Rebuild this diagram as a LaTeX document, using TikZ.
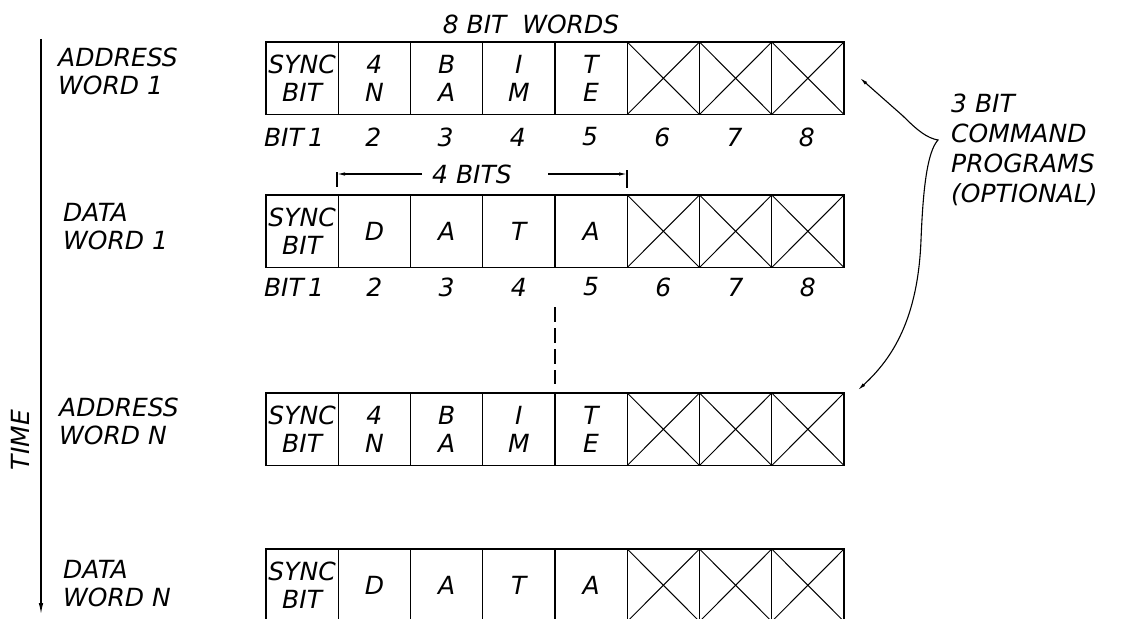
\documentclass[tikz,border=0pt]{standalone}
\usepackage{fontspec}
\setmainfont{DejaVu Sans}
\usetikzlibrary{arrows.meta}
\begin{document}
\begin{tikzpicture}[x=1pt,y=-1pt,
  txt/.style={font=\fontsize{25}{28}\selectfont\itshape, inner sep=0pt},
  cell/.style={draw, line width=1.2pt, minimum width=72.25pt, minimum height=72.5pt,
    inner sep=0pt, outer sep=0pt, align=center, font=\fontsize{25}{28}\selectfont\itshape},
  outline/.style={draw, line width=1.8pt},
  cross/.style={line width=1pt},
  arr/.style={line width=1.1pt, -{Latex[length=8pt,width=3.5pt]}},
  thinline/.style={line width=1.1pt}]
\useasboundingbox (0,0) rectangle (1126,618);
\fill[white] (0,0) rectangle (1126,618);
\clip (0,0) rectangle (1126,618);

% ---- row 1: address word 1
\foreach \i/\t in {1/{SYNC\\BIT},2/{4\\N},3/{B\\A},4/{I\\M},5/{T\\E},6/{},7/{},8/{}}
  \node[cell] (r1c\i) at ({266+72.25*(\i-0.5)},78.25) {\t};
% ---- row 2: data word 1
\foreach \i/\t in {1/{SYNC\\BIT},2/{D},3/{A},4/{T},5/{A},6/{},7/{},8/{}}
  \node[cell] (r2c\i) at ({266+72.25*(\i-0.5)},231.25) {\t};
% ---- row 3: address word N
\foreach \i/\t in {1/{SYNC\\BIT},2/{4\\N},3/{B\\A},4/{I\\M},5/{T\\E},6/{},7/{},8/{}}
  \node[cell] (r3c\i) at ({266+72.25*(\i-0.5)},429.25) {\t};
% ---- row 4: data word N
\foreach \i/\t in {1/{SYNC\\BIT},2/{D},3/{A},4/{T},5/{A},6/{},7/{},8/{}}
  \node[cell] (r4c\i) at ({266+72.25*(\i-0.5)},585.25) {\t};

\foreach \r in {1,2,3,4}{
  \draw[outline] (r\r c1.north west) rectangle (r\r c8.south east);
  \foreach \i in {6,7,8}{
    \draw[cross] (r\r c\i.north west) -- (r\r c\i.south east);
    \draw[cross] (r\r c\i.south west) -- (r\r c\i.north east);
  }
}

% ---- bit numbers
\node[txt] (b1a) at (294,137) {BIT\,1};
\node[txt] (b1b) at (294,287) {BIT\,1};
\foreach \i in {2,...,8}{
  \node[txt] (n1\i) at ({266+72.25*(\i-0.5)-1},137) {\i};
  \node[txt] (n2\i) at ({266+72.25*(\i-0.5)},287) {\i};
}

% ---- title
\node[txt] (title) at (531,24) {8 BIT\ \ WORDS};

% ---- row labels
\node[txt, anchor=west, align=left] (l1) at (58,71.5) {ADDRESS\\WORD 1};
\node[txt, anchor=west, align=left] (l2) at (63,226.5) {DATA\\WORD 1};
\node[txt, anchor=west, align=left] (l3) at (59,421.5) {ADDRESS\\WORD N};
\node[txt, anchor=west, align=left] (l4) at (63,583.5) {DATA\\WORD N};

% ---- time axis
\coordinate (ts) at (41,39);
\coordinate (te) at (41,614);
\draw[line width=1.1pt, -{Latex[length=11pt,width=4.5pt]}] (ts) -- (te);
\node[txt, rotate=90] (time) at (20,440) {TIME};

% ---- 4 bits dimension
\coordinate (dl) at (337,174);
\coordinate (dr) at (627,174);
\coordinate (dlt) at (337,172);
\coordinate (dlb) at (337,187);
\coordinate (drt) at (627,170);
\coordinate (drb) at (627,188);
\node[txt] (fb) at (472,174) {4 BITS};
\coordinate (fbl) at (422,174);
\coordinate (fbr) at (548,174);
\draw[thinline] (dlt) -- (dlb);
\draw[thinline] (drt) -- (drb);
\draw[arr] (fbl) -- (dl);
\draw[arr] (fbr) -- (dr);

% ---- dashed continuation
\coordinate (ds) at (555,307);
\coordinate (de) at (555,384);
\draw[line width=1.2pt, dash pattern=on 15pt off 6pt] (ds) -- (de);

% ---- command programs note
\node[anchor=west, align=left, inner sep=0pt, font=\fontsize{25}{30}\selectfont\itshape]
  (cmd) at (951,150) {3 BIT\\COMMAND\\PROGRAMS\\(OPTIONAL)};
\coordinate (tipA) at (860,78);
\coordinate (cusp) at (938,140);
\coordinate (tipB) at (858,390);
\draw[line width=1.1pt, {Latex[length=8pt,width=3.5pt]}-{Latex[length=8pt,width=3.5pt]}]
  (tipA) -- (903,116) .. controls (918,131) and (927,138) .. (cusp)
  .. controls (927,152) and (923,190) .. (921,240)
  .. controls (918,318) and (893,358) .. (tipB);
\end{tikzpicture}
\end{document}
